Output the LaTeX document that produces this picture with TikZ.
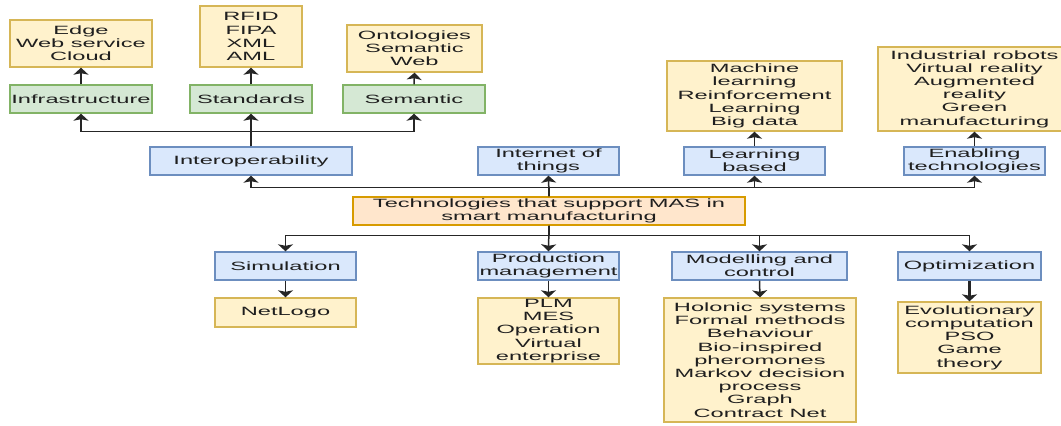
\documentclass[tikz,border=0pt]{standalone}
\usepackage{fontspec}
\setmainfont{Liberation Sans}[FakeStretch=1.97]
\usetikzlibrary{arrows.meta}
\definecolor{BlueFill}{HTML}{DAE8FC}
\definecolor{BlueLine}{HTML}{6C8EBF}
\definecolor{GreenFill}{HTML}{D5E8D4}
\definecolor{GreenLine}{HTML}{82B366}
\definecolor{YellowFill}{HTML}{FFF2CC}
\definecolor{YellowLine}{HTML}{D6B656}
\definecolor{OrangeFill}{HTML}{FFE6CC}
\definecolor{OrangeLine}{HTML}{D79B00}

\begin{document}
\begin{tikzpicture}[x=1pt,y=-1pt]
\tikzset{VertexStyle/.style={draw, line width=1.4pt, inner sep=0pt, align=center, text=black!88,
  font=\fontsize{12}{13.2}\selectfont, minimum height=28pt}}
\tikzset{BlueVertex/.style={VertexStyle, fill=BlueFill, draw=BlueLine}}
\tikzset{GreenVertex/.style={VertexStyle, fill=GreenFill, draw=GreenLine}}
\tikzset{YellowVertex/.style={VertexStyle, fill=YellowFill, draw=YellowLine}}
\tikzset{OrangeVertex/.style={VertexStyle, fill=OrangeFill, draw=OrangeLine}}
\tikzset{EdgeStyle/.style={line width=1.5pt, draw=black!85, -{Stealth[length=7pt,width=15pt,inset=1.5pt]}}}
\useasboundingbox (0,0) rectangle (1061,426);
\clip (0,0) rectangle (1061,426);
\node[OrangeVertex, minimum width=392pt] (tech) at (549,211) {Technologies that support MAS in\\smart manufacturing};
\node[BlueVertex, minimum width=202pt] (interop) at (251,161) {Interoperability};
\node[BlueVertex, minimum width=141pt] (iot) at (548.5,161) {Internet of\\things};
\node[BlueVertex, minimum width=141pt] (learn) at (754.5,161) {Learning\\based};
\node[BlueVertex, minimum width=141pt] (enab) at (974.5,161) {Enabling\\technologies};
\node[GreenVertex, minimum width=142pt] (infra) at (81,99) {Infrastructure};
\node[GreenVertex, minimum width=122pt] (stand) at (251,99) {Standards};
\node[GreenVertex, minimum width=142pt] (seman) at (414,99) {Semantic};
\node[YellowVertex, minimum width=142pt, minimum height=47pt] (edge) at (81,43.5) {Edge\\Web service\\Cloud};
\node[YellowVertex, minimum width=102pt, minimum height=61pt] (rfid) at (251,36.5) {RFID\\FIPA\\XML\\AML};
\node[YellowVertex, minimum width=135pt, minimum height=47pt] (onto) at (414.5,48.5) {Ontologies\\Semantic\\Web};
\node[YellowVertex, minimum width=175pt, minimum height=70pt] (ml) at (754.5,96) {Machine\\learning\\Reinforcement\\Learning\\Big data};
\node[YellowVertex, minimum width=193pt, minimum height=84pt] (robots) at (974.5,89) {Industrial robots\\Virtual reality\\Augmented\\reality\\Green\\manufacturing};
\node[BlueVertex, minimum width=141pt] (sim) at (285.5,266) {Simulation};
\node[BlueVertex, minimum width=141pt] (prod) at (548.5,266) {Production\\management};
\node[BlueVertex, minimum width=175pt] (model) at (759.5,266) {Modelling and\\control};
\node[BlueVertex, minimum width=143pt] (optim) at (969.5,266) {Optimization};
\node[YellowVertex, minimum width=141pt, minimum height=29pt] (netlogo) at (285.5,312.5) {NetLogo};
\node[YellowVertex, minimum width=141pt, minimum height=66pt] (plm) at (548.5,331) {PLM\\MES\\Operation\\Virtual\\enterprise};
\node[YellowVertex, minimum width=192pt, minimum height=124pt] (holonic) at (760,360) {Holonic systems\\Formal methods\\Behaviour\\Bio-inspired\\pheromones\\Markov decision\\process\\Graph\\Contract Net};
\node[YellowVertex, minimum width=143pt, minimum height=71pt] (evol) at (969.5,337.5) {Evolutionary\\computation\\PSO\\Game\\theory};
\draw[EdgeStyle] (tech.north) -- (iot.south);
\draw[EdgeStyle] (tech.north) -- ++(0,-9) -| (interop.south);
\draw[EdgeStyle] (tech.north) -- ++(0,-9) -| (learn.south);
\draw[EdgeStyle] (tech.north) -- ++(0,-9) -| (enab.south);
\draw[EdgeStyle, line width=2.6pt] (interop.north) -- (stand.south);
\draw[EdgeStyle] (interop.north) -- ++(0,-15) -| (infra.south);
\draw[EdgeStyle] (interop.north) -- ++(0,-15) -| (seman.south);
\draw[EdgeStyle] (infra.north) -- (edge.south);
\draw[EdgeStyle, line width=2pt] (stand.north) -- (rfid.south);
\draw[EdgeStyle] (seman.north) -- (onto.south);
\draw[EdgeStyle] (learn.north) -- (ml.south);
\draw[EdgeStyle] (enab.north) -- (robots.south);
\draw[EdgeStyle] (tech.south) -- (prod.north);
\draw[EdgeStyle] (tech.south) -- ++(0,10) -| (sim.north);
\draw[EdgeStyle] (tech.south) -- ++(0,10) -| (model.north);
\draw[EdgeStyle] (tech.south) -- ++(0,10) -| (optim.north);
\draw[EdgeStyle] (sim.south) -- (netlogo.north);
\draw[EdgeStyle] (prod.south) -- (plm.north);
\draw[EdgeStyle] (model.south) -- (holonic.north);
\draw[EdgeStyle, line width=2.6pt] (optim.south) -- (evol.north);
\end{tikzpicture}
\end{document}
